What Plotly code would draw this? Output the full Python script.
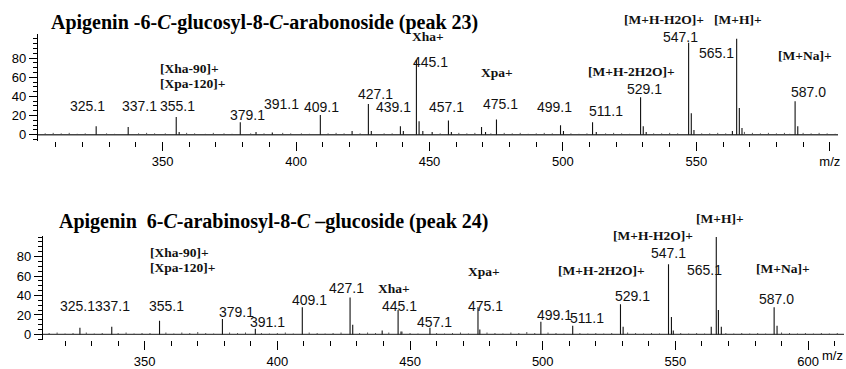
import plotly.graph_objects as go

W, H = 846, 369

# ---------------- DATA ----------------
# Panel 1: peak 23 (m/z, relative intensity)
top_mz = [325.1, 337.1, 355.1, 356.2, 379.1, 385.0, 391.1, 409.1, 421.0, 427.1, 428.2,
          439.1, 440.2, 445.1, 446.1, 447.5, 451.0, 457.1, 458.2, 469.5, 471.0, 475.1,
          499.1, 500.2, 511.1, 512.5, 529.1, 530.1, 531.2, 547.1, 548.1, 549.1, 563.5,
          565.1, 566.1, 567.1, 587.0, 588.0]
top_int = [9, 8, 18.5, 3, 13, 3, 2.5, 20.5, 4, 32, 4,
           9, 4, 78, 14, 4, 3, 15, 3, 8, 3, 16,
           10, 4, 13, 3, 39, 9, 3, 96, 22.5, 5, 4,
           100, 28, 7, 35, 9]
top_noise_mz = [306, 309, 312, 315, 318, 321, 329, 332, 341, 344, 347, 351, 359, 362, 366,
                369, 373, 376, 383, 388, 395, 398, 402, 405, 412, 415, 418, 424, 433, 436,
                454, 461, 464, 467, 473, 478, 481, 484, 487, 490, 493, 496, 503, 506, 509,
                516, 519, 522, 525, 534, 537, 540, 543, 552, 555, 558, 561, 568, 571, 574,
                577, 580, 583, 585, 590, 593, 596, 599, 602]
top_noise_int = [1.5, 2, 1.5, 2, 1, 1.5, 1.5, 1, 1.5, 2, 1.5, 1.5, 2, 1.5, 1,
                 2, 1.5, 1, 1.5, 1.5, 2, 1.5, 1.5, 1, 1.5, 2, 1.5, 1.5, 1.5, 1.5,
                 1.5, 2, 1.5, 2, 1.5, 2, 1.5, 2, 1, 1.5, 2, 1.5, 1.5, 1, 1.5,
                 1.5, 2, 1.5, 1, 1.5, 1.5, 2, 1.5, 1.5, 1.5, 2, 1.5, 3, 2, 1.5,
                 2, 1.5, 2, 1, 2, 1.5, 2, 1.5, 1]

# Panel 2: peak 24
bot_mz = [325.6, 337.6, 355.6, 379.3, 391.7, 409.4, 427.4, 428.4, 439.5, 445.5, 446.6,
          457.5, 475.6, 476.3, 499.3, 511.3, 529.3, 530.3, 547.4, 548.5, 549.2, 563.5,
          565.4, 566.2, 567.3, 587.2, 588.3]
bot_int = [7, 8, 14, 16, 6, 28, 38, 10, 4, 25, 3,
           7, 28, 5, 13, 9, 31, 8, 72, 18, 4, 8,
           100, 25, 8, 28, 9]
bot_noise_mz = [314, 317, 320, 323, 328, 331, 334, 340, 343, 346, 349, 352, 358, 361, 364,
                367, 370, 373, 376, 382, 385, 388, 394, 397, 400, 403, 406, 412, 415, 418,
                421, 424, 431, 434, 437, 442, 447, 450, 453, 460, 463, 466, 469, 472, 479,
                482, 485, 488, 491, 494, 497, 502, 505, 508, 514, 517, 520, 523, 526, 532,
                535, 538, 541, 544, 552, 555, 558, 561, 569, 572, 575, 578, 581, 584, 590,
                593, 596, 599, 602, 605, 608, 611]
bot_noise_int = [1.5, 2, 1, 1.5, 2, 1, 1.5, 1.5, 2, 1, 1.5, 1.5, 2, 1, 2,
                 1.5, 2.5, 1.5, 1, 2, 1.5, 2, 1.5, 1, 1.5, 2, 1, 2, 1.5, 1,
                 1.5, 2, 1.5, 2, 1.5, 2, 3, 1.5, 1, 1.5, 1, 1.5, 2, 1, 2,
                 1.5, 1, 2, 1.5, 2.5, 1.5, 2, 1.5, 1, 1.5, 1, 1.5, 1, 1.5, 2,
                 1.5, 1, 1.5, 1, 1.5, 1, 1.5, 1, 1.5, 1, 1.5, 1, 1.5, 1, 2,
                 1.5, 1, 1.5, 1, 1.5, 1, 1.5]

# Peak labels: (text, m/z position, intensity position)
top_num_labels = ["325.1", "337.1", "355.1", "379.1", "391.1", "409.1", "427.1", "439.1",
                  "445.1", "457.1", "475.1", "499.1", "511.1", "529.1", "547.1", "565.1", "587.0"]
top_num_x = [322.0, 341.4, 355.6, 381.8, 394.4, 409.4, 429.6, 436.4,
             450.2, 456.5, 476.7, 496.9, 516.0, 530.6, 544.0, 557.5, 591.9]
top_num_y = [29.7, 29.7, 29.7, 20.5, 31.8, 28.7, 42.0, 28.7,
             75.9, 28.7, 31.8, 28.7, 24.6, 47.2, 101.5, 85.1, 45.1]

top_ion_labels = ["Xha+", "Xpa+", "[M+H-2H2O]+", "[M+H-H2O]+", "[M+H]+", "[M+Na]+"]
top_ion_x = [449.4, 475.2, 525.7, 538.0, 565.7, 590.7]
top_ion_y = [102.6, 64.6, 65.6, 120.0, 120.0, 83.1]

bot_num_labels = ["325.1", "337.1", "355.1", "379.1", "391.1", "409.1", "427.1", "445.1",
                  "457.1", "475.1", "499.1", "511.1", "529.1", "547.1", "565.1", "587.0"]
bot_num_x = [324.6, 337.8, 358.3, 384.6, 396.2, 412.0, 425.9, 445.9,
             459.4, 478.6, 504.5, 516.5, 533.8, 547.4, 560.9, 588.2]
bot_num_y = [29.3, 29.3, 29.3, 23.2, 13.1, 35.4, 47.5, 29.3,
             13.1, 29.3, 20.2, 17.2, 39.4, 83.8, 65.7, 36.4]

bot_ion_labels = ["Xha+", "Xpa+", "[M+H-2H2O]+", "[M+H-H2O]+", "[M+H]+", "[M+Na]+"]
bot_ion_x = [444.0, 477.8, 522.2, 541.7, 566.9, 590.6]
bot_ion_y = [47.5, 64.6, 65.7, 102.0, 119.2, 67.7]

frag_labels = ["[Xha-90]+", "[Xpa-120]+"]
top_frag_x = [348.1, 348.1]
top_frag_y = [68.7, 53.3]
bot_frag_x = [351.1, 351.1]
bot_frag_y = [83.8, 68.7]

x_major = [350, 400, 450, 500, 550, 600]
top_xtext = ["350", "400", "450", "500", "550", "m/z"]
bot_xtext = ["350", "400", "450", "500", "550", "600"]
y_major = [0, 20, 40, 60, 80]

title_top = "<b>Apigenin -6-<i>C</i>-glucosyl-8-<i>C</i>-arabonoside (peak 23)</b>"
title_bot = "<b>Apigenin  6-<i>C</i>-arabinosyl-8-<i>C</i> \u2013glucoside (peak 24)</b>"

# ---------------- FIGURE ----------------
TOP_XR = [303.27, 603.08]
BOT_XR = [311.65, 613.53]
TOP_YR = [-6.15, 104.6]
BOT_YR = [-6.06, 101.0]
TOP_XD = [38 / W, 840 / W]
BOT_XD = [43 / W, 1.0]
TOP_YD = [1 - 143 / H, 1 - 35 / H]
BOT_YD = [1 - 346 / H, 1 - 240 / H]


def stems(mz, inten):
    xs, ys = [], []
    for m, v in zip(mz, inten):
        xs += [m, m, None]
        ys += [0, v, None]
    return xs, ys


def to_paper(v, rng, dom):
    return dom[0] + (v - rng[0]) / (rng[1] - rng[0]) * (dom[1] - dom[0])


fig = go.Figure()
for (mz, it, nz, ni, xr, xa, ya) in [
    (top_mz, top_int, top_noise_mz, top_noise_int, TOP_XR, "x", "y"),
    (bot_mz, bot_int, bot_noise_mz, bot_noise_int, BOT_XR, "x2", "y2"),
]:
    nx, ny = stems(nz, ni)
    fig.add_trace(go.Scatter(x=nx, y=ny, mode="lines", xaxis=xa, yaxis=ya,
                             line=dict(color="#555555", width=1), hoverinfo="skip",
                             showlegend=False))
    fig.add_trace(go.Scatter(x=[xr[0], xr[1]], y=[0, 0], mode="lines", xaxis=xa, yaxis=ya,
                             line=dict(color="#444444", width=1.3), hoverinfo="skip",
                             showlegend=False))
    sx, sy = stems(mz, it)
    fig.add_trace(go.Scatter(x=sx, y=sy, mode="lines", xaxis=xa, yaxis=ya,
                             line=dict(color="#111111", width=1.1), hoverinfo="skip",
                             showlegend=False))

SANS = "Liberation Sans, Arial, sans-serif"
SERIF = "Liberation Serif, Times New Roman, serif"

ann = []


def num_ann(texts, xs, ys, xref, yr, yd):
    for t, x, y in zip(texts, xs, ys):
        ann.append(dict(text=t, x=x, y=to_paper(y, yr, yd), xref=xref, yref="paper",
                        showarrow=False, xanchor="center", yanchor="middle",
                        font=dict(family=SANS, size=14, color="#111111")))


def ion_ann(texts, xs, ys, xref, yr, yd, anchor="center"):
    for t, x, y in zip(texts, xs, ys):
        ann.append(dict(text="<b>" + t + "</b>", x=x, y=to_paper(y, yr, yd), xref=xref,
                        yref="paper", showarrow=False, xanchor=anchor, yanchor="middle",
                        font=dict(family=SERIF, size=13.5, color="#111111")))


num_ann(top_num_labels, top_num_x, top_num_y, "x", TOP_YR, TOP_YD)
num_ann(bot_num_labels, bot_num_x, bot_num_y, "x2", BOT_YR, BOT_YD)
ion_ann(top_ion_labels, top_ion_x, top_ion_y, "x", TOP_YR, TOP_YD)
ion_ann(bot_ion_labels, bot_ion_x, bot_ion_y, "x2", BOT_YR, BOT_YD)
ion_ann(frag_labels, top_frag_x, top_frag_y, "x", TOP_YR, TOP_YD, "left")
ion_ann(frag_labels, bot_frag_x, bot_frag_y, "x2", BOT_YR, BOT_YD, "left")

ann.append(dict(text=title_top, x=49 / W, y=1 - 23 / H, xref="paper", yref="paper",
                showarrow=False, xanchor="left", yanchor="middle",
                font=dict(family=SERIF, size=20, color="black")))
ann.append(dict(text=title_bot, x=57 / W, y=1 - 225 / H, xref="paper", yref="paper",
                showarrow=False, xanchor="left", yanchor="middle",
                font=dict(family=SERIF, size=20, color="black")))
ann.append(dict(text="m/z", x=822 / W, y=1 - 361 / H, xref="paper", yref="paper",
                showarrow=False, xanchor="left", yanchor="middle",
                font=dict(family=SANS, size=13, color="black")))


def xaxis(domain, rng, anchor, text):
    return dict(domain=domain, range=rng, anchor=anchor, showline=False, showgrid=False,
                zeroline=False, ticks="outside", ticklen=9, tickwidth=1, tickcolor="black",
                tickmode="array", tickvals=x_major, ticktext=text,
                minor=dict(tickmode="linear", tick0=0, dtick=10, ticks="outside",
                           ticklen=5, tickwidth=1, tickcolor="black", showgrid=False),
                tickfont=dict(family=SANS, size=13, color="black"), fixedrange=True)


def yaxis(domain, rng, anchor):
    return dict(domain=domain, range=rng, anchor=anchor, showline=True, linecolor="black",
                linewidth=1, showgrid=False, zeroline=False, ticks="outside", ticklen=8,
                tickwidth=1, tickcolor="black", tickmode="array", tickvals=y_major,
                minor=dict(tickmode="linear", tick0=0, dtick=5, ticks="outside",
                           ticklen=4, tickwidth=1, tickcolor="black", showgrid=False),
                tickfont=dict(family=SANS, size=13, color="black"), fixedrange=True)


fig.update_layout(
    width=W, height=H, margin=dict(l=0, r=0, t=0, b=0),
    paper_bgcolor="white", plot_bgcolor="white", showlegend=False,
    xaxis=xaxis(TOP_XD, TOP_XR, "y", top_xtext),
    yaxis=yaxis(TOP_YD, TOP_YR, "x"),
    xaxis2=xaxis(BOT_XD, BOT_XR, "y2", bot_xtext),
    yaxis2=yaxis(BOT_YD, BOT_YR, "x2"),
    annotations=ann,
)

fig.write_html("out.html")
